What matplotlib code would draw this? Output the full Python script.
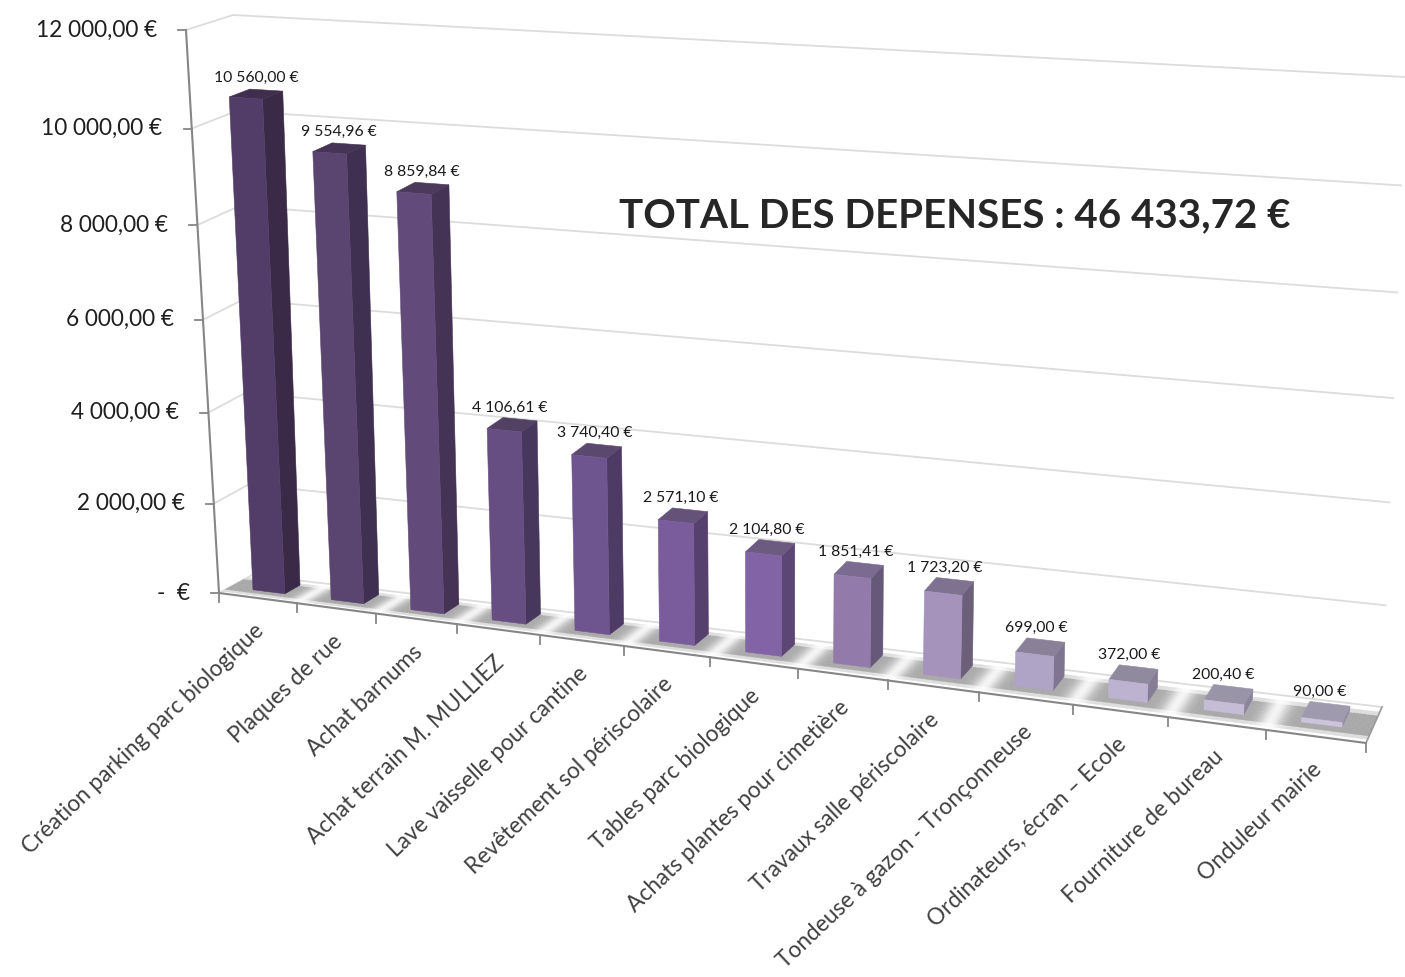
#!/usr/bin/env python3
"""Histogramme 3D des depenses, perspective calee sur les coins du graphique."""
import numpy as np
import matplotlib
matplotlib.use('Agg')
import matplotlib.pyplot as plt
from matplotlib.patches import Polygon
from matplotlib.collections import PolyCollection

categories = ['Création parking parc biologique', 'Plaques de rue', 'Achat barnums',
              'Achat terrain M. MULLIEZ', 'Lave vaisselle pour cantine',
              'Revêtement sol périscolaire', 'Tables parc biologique',
              'Achats plantes pour cimetière', 'Travaux salle périscolaire',
              'Tondeuse à gazon - Tronçonneuse', 'Ordinateurs, écran – Ecole',
              'Fourniture de bureau', 'Onduleur mairie']
values = [10560.00, 9554.96, 8859.84, 4106.61, 3740.40, 2571.10, 2104.80,
          1851.41, 1723.20, 699.00, 372.00, 200.40, 90.00]
value_labels = ['10 560,00 €', '9 554,96 €', '8 859,84 €', '4 106,61 €', '3 740,40 €',
                '2 571,10 €', '2 104,80 €', '1 851,41 €', '1 723,20 €', '699,00 €',
                '372,00 €', '200,40 €', '90,00 €']
y_ticks = [0, 2000, 4000, 6000, 8000, 10000, 12000]
y_labels = ['-  €', '2 000,00 €', '4 000,00 €', '6 000,00 €', '8 000,00 €',
            '10 000,00 €', '12 000,00 €']
front_colors = ['#523d68', '#5a4470', '#624a7a', '#664e83', '#6f5590', '#7a5b9c', '#8263a5',
                '#927baa', '#a593bb', '#afa3c6', '#bdb3d1', '#c5bdd6', '#cbc4da']
side_colors = ['#3a2a48', '#3f2f50', '#443355', '#48375c', '#4e3b65', '#56406e', '#5c4674',
               '#665878', '#6b5f7a', '#7f7590', '#857d96', '#8c869c', '#918ca2']
top_colors = ['#3f2e4e', '#453455', '#4b3a5c', '#524163', '#5b486e', '#655278', '#6c5a80',
              '#7b6b90', '#7f7190', '#8a8098', '#908a9e', '#9a94a8', '#a09aae']

NCAT = len(categories)
VMAX = 12000
GAP = 0.295
Z0, Z1 = 0.34, 0.80

plt.rcParams['font.family'] = ['Lato', 'DejaVu Sans']


def homography(pts):
    # pts : coins (0,0), (NCAT,0), (0,VMAX), (NCAT,VMAX) en pixels
    src = [(0, 0), (1, 0), (0, 1), (1, 1)]
    A, b = [], []
    for (u, v), (x, y) in zip(src, pts):
        A.append([u, v, 1, 0, 0, 0, -u * x, -v * x])
        A.append([0, 0, 0, u, v, 1, -u * y, -v * y])
        b += [x, y]
    return np.append(np.linalg.solve(np.array(A, float), np.array(b, float)), 1).reshape(3, 3)


H_FRONT = homography([(219, 593), (1366, 743), (186, 30), (1408, 103)])
H_BACK = homography([(252, 575), (1382, 707), (233, 15), (1405, 77)])


def on_plane(H, x, v):
    p = H @ np.array([x / NCAT, v / VMAX, 1.0])
    return p[:2] / p[2]


def proj(x, v, z=0.0):
    return tuple((1 - z) * on_plane(H_FRONT, x, v) + z * on_plane(H_BACK, x, v))


fig = plt.figure(figsize=(14.05, 9.77), dpi=100)
ax = fig.add_axes([0, 0, 1, 1])
ax.set_xlim(0, 1405)
ax.set_ylim(977, 0)
ax.axis('off')

# murs
GRID = '#dcdcdc'
for t in y_ticks:
    pts = [proj(0, t, 0), proj(0, t, 1), proj(NCAT, t, 1)]
    ax.plot(*zip(*pts), color=GRID, lw=1.3, solid_joinstyle='miter', zorder=1)

# sol : bande grise avec reflets clairs entre les barres
polys, shades = [], []
xs = np.linspace(0, NCAT, 521)
zs = np.linspace(0.10, 0.86, 9)
for x0, x1 in zip(xs[:-1], xs[1:]):
    d = abs((x0 + x1) / 2 - round((x0 + x1) / 2))
    interior = 0.5 < (x0 + x1) / 2 < NCAT - 0.5
    g = 0.66 + (0.30 * np.exp(-(d / 0.12) ** 2) if interior else 0)
    for za, zb in zip(zs[:-1], zs[1:]):
        zm = (za + zb) / 2
        fade = min(1.0, (zm - 0.10) / 0.12, (0.86 - zm) / 0.12)
        polys.append([proj(x0, 0, za), proj(x1, 0, za), proj(x1, 0, zb), proj(x0, 0, zb)])
        c = 1 - (1 - g) * fade
        shades.append((c, c, c))
ax.add_collection(PolyCollection(polys, facecolors=shades, edgecolors=shades, linewidths=0.3, zorder=2))
ax.plot(*zip(proj(NCAT, 0, 0), proj(NCAT, 0, 1)), color='#9a9a9a', lw=1.2, zorder=3)

# axes
AXIS = '#868686'
ax.plot(*zip(proj(0, 0), proj(0, VMAX)), color=AXIS, lw=1.5, zorder=3)
ax.plot(*zip(proj(0, 0), proj(NCAT, 0)), color=AXIS, lw=1.5, zorder=3)
for t, lab in zip(y_ticks, y_labels):
    px, py = proj(0, t)
    ax.plot([px - 8, px], [py, py], color=AXIS, lw=1.3, zorder=3)
    ax.annotate(lab, xy=(px, py), xytext=(-21, 0), textcoords='offset points',
                ha='right', va='center', fontsize=16.3, color='#1f1f1f', zorder=6)
for i in range(NCAT + 1):
    px, py = proj(i, 0)
    ax.plot([px, px], [py, py + 9], color=AXIS, lw=1.3, zorder=3)

# barres
for i, v in enumerate(values):
    xa, xb = i + GAP, i + 1 - GAP
    ax.add_patch(Polygon([proj(xb, 0, Z0), proj(xb, 0, Z1), proj(xb, v, Z1), proj(xb, v, Z0)],
                         fc=side_colors[i], ec=side_colors[i], lw=0.4, zorder=4))
    ax.add_patch(Polygon([proj(xa, v, Z0), proj(xb, v, Z0), proj(xb, v, Z1), proj(xa, v, Z1)],
                         fc=top_colors[i], ec=top_colors[i], lw=0.4, zorder=4))
    ax.add_patch(Polygon([proj(xa, 0, Z0), proj(xb, 0, Z0), proj(xb, v, Z0), proj(xa, v, Z0)],
                         fc=front_colors[i], ec=front_colors[i], lw=0.4, zorder=5))
    px, py = proj(i + 0.5, v, Z1)
    ax.annotate(value_labels[i], xy=(px, py), xytext=(-7, 8.5), textcoords='offset points',
                ha='center', va='center', fontsize=11.3, color='#1a1a1a', zorder=6)
    px, py = proj(i + 0.5, 0)
    ax.annotate(categories[i], xy=(px, py), xytext=(-3, -16), textcoords='offset points',
                ha='right', va='top', rotation=43.5, rotation_mode='anchor',
                fontsize=16.3, color='#404040', zorder=6)

ax.text(619, 216, 'TOTAL DES DEPENSES : 46 433,72 €', ha='left', va='center',
        fontsize=29, fontweight='bold', color='#262626', zorder=7)

fig.savefig('out.png', dpi=100)
print('ok')
